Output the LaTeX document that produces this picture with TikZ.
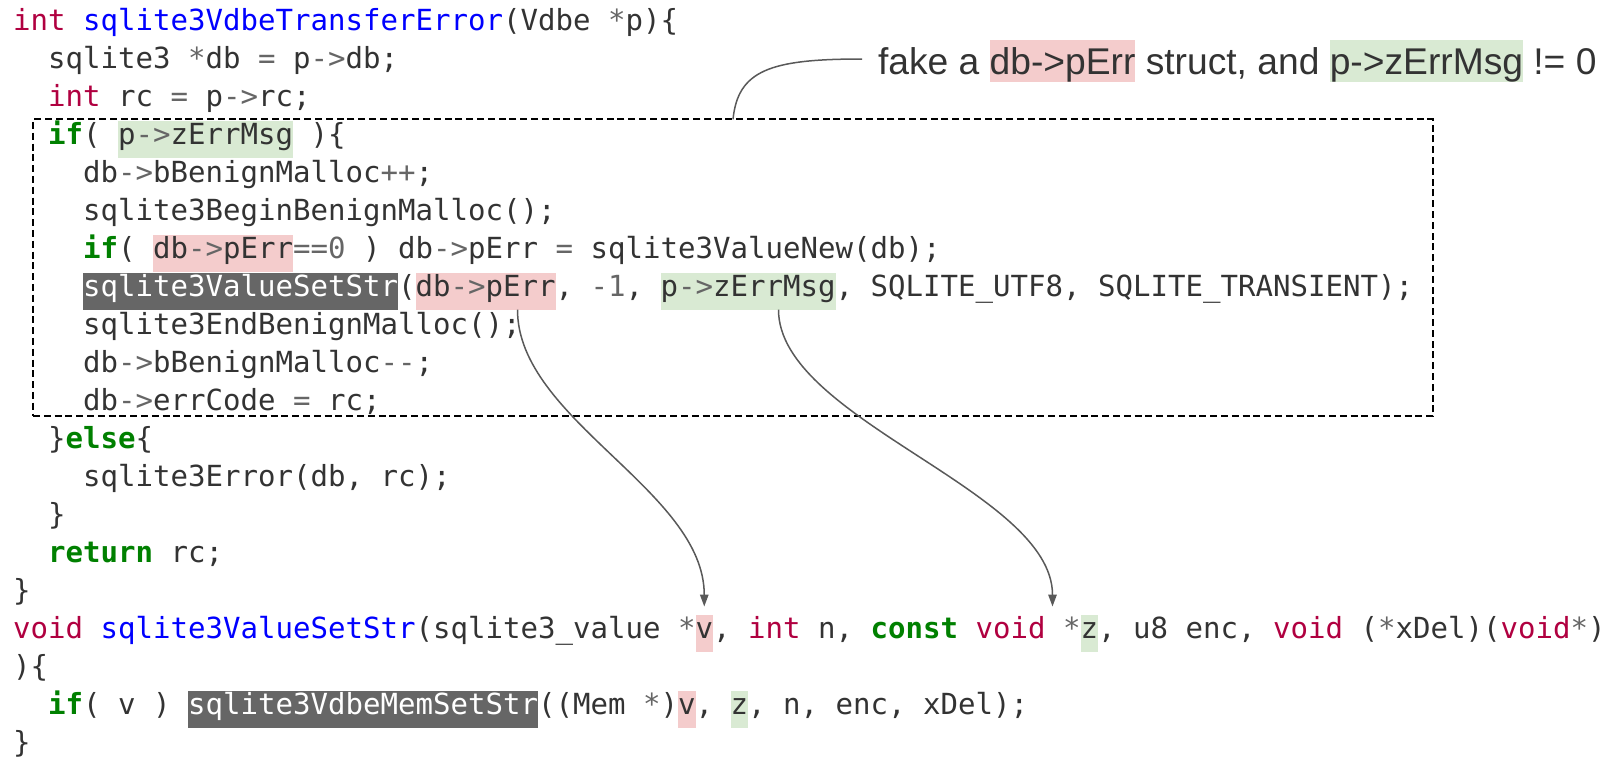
\documentclass[tikz,border=0pt]{standalone}
\usepackage{fontspec}
\setmainfont{Liberation Sans}
\setmonofont{DejaVu Sans Mono}
\usetikzlibrary{arrows.meta}

% Pygments-like palette for the C listing
\definecolor{codefg}{HTML}{333333}
\definecolor{typecol}{HTML}{B00040}
\definecolor{kwcol}{HTML}{008000}
\definecolor{fncol}{HTML}{0000FF}
\definecolor{opcol}{HTML}{666666}
% marker colours
\definecolor{pinkbg}{HTML}{F4CCCC}
\definecolor{greenbg}{HTML}{D9EAD3}
\definecolor{darkbg}{HTML}{666666}
\definecolor{linkcol}{HTML}{595959}

% token classes
\newcommand\cTy[1]{\textcolor{typecol}{#1}}
\newcommand\cKw[1]{\textcolor{kwcol}{\bfseries #1}}
\newcommand\cFn[1]{\textcolor{fncol}{#1}}
\newcommand\cOp[1]{\textcolor{opcol}{#1}}
\newcommand\cW[1]{\textcolor{white}{#1}}
% inline marker for the sans-serif note
\newcommand\notemark[2]{{\setlength{\fboxsep}{0pt}\colorbox{#1}{\rule[-0.212em]{0pt}{1.117em}#2}}}

% one listing line: name, line number, start column, text
\newcommand\codeline[4]{\node[code] (#1) at ({13+17.5*#3},{30+38*#2}) {#4};}
% marker rectangle: name, line, column, width in columns, style
\newcommand\markbox[5]{\node[#5, anchor=north west, minimum width={#4*17.5pt}, minimum height=37.2pt] (#1) at ({13+17.5*#3},{30+38*#2-23.5}) {};}

\tikzset{
  code/.style={anchor=base west, inner sep=0pt, outer sep=0pt, text=codefg,
    font=\ttfamily\fontsize{29.07pt}{38pt}\selectfont},
  hlbase/.style={inner sep=0pt, outer sep=0pt, draw=none},
  hlpink/.style={hlbase, fill=pinkbg},
  hlgreen/.style={hlbase, fill=greenbg},
  hldark/.style={hlbase, fill=darkbg},
  blockframe/.style={draw=black, line width=1.8pt, dash pattern=on 7pt off 3.8pt,
    inner sep=0pt, outer sep=0pt},
  note/.style={anchor=base west, inner sep=0pt, outer sep=0pt, text=codefg,
    font=\fontsize{37.2pt}{44pt}\selectfont},
  conn/.style={draw=linkcol, line width=1.5pt},
  arr/.style={conn, -{Triangle[length=12pt,width=8.5pt]}},
}

\begin{document}
\frenchspacing
\begin{tikzpicture}[x=1pt,y=-1pt]
\useasboundingbox (0,0) rectangle (1614,756);

% markers behind the text
\markbox{hlMsgA}{3}{6}{10}{hlgreen}
\markbox{hlErrA}{6}{8}{8}{hlpink}
\markbox{hlFnA}{7}{4}{18}{hldark}
\markbox{hlErrB}{7}{23}{8}{hlpink}
\markbox{hlMsgB}{7}{37}{10}{hlgreen}
\markbox{hlV}{16}{39}{1}{hlpink}
\markbox{hlZ}{16}{61}{1}{hlgreen}
\markbox{hlFnB}{18}{10}{20}{hldark}
\markbox{hlVb}{18}{38}{1}{hlpink}
\markbox{hlZb}{18}{41}{1}{hlgreen}

% the listing
\codeline{l0}{0}{0}{\cTy{int} \cFn{sqlite3VdbeTransferError}(Vdbe \cOp{*}p)\{}
\codeline{l1}{1}{2}{sqlite3 \cOp{*}db \cOp{=} p\cOp{->}db;}
\codeline{l2}{2}{2}{\cTy{int} rc \cOp{=} p\cOp{->}rc;}
\codeline{l3}{3}{2}{\cKw{if}( p\cOp{->}zErrMsg )\{}
\codeline{l4}{4}{4}{db\cOp{->}bBenignMalloc\cOp{++};}
\codeline{l5}{5}{4}{sqlite3BeginBenignMalloc();}
\codeline{l6}{6}{4}{\cKw{if}( db\cOp{->}pErr\cOp{==0} ) db\cOp{->}pErr \cOp{=} sqlite3ValueNew(db);}
\codeline{l7}{7}{4}{\cW{sqlite3ValueSetStr}(db\cOp{->}pErr, \cOp{-1}, p\cOp{->}zErrMsg, SQLITE\_UTF8, SQLITE\_TRANSIENT);}
\codeline{l8}{8}{4}{sqlite3EndBenignMalloc();}
\codeline{l9}{9}{4}{db\cOp{->}bBenignMalloc\cOp{--};}
\codeline{l10}{10}{4}{db\cOp{->}errCode \cOp{=} rc;}
\codeline{l11}{11}{2}{\}\cKw{else}\{}
\codeline{l12}{12}{4}{sqlite3Error(db, rc);}
\codeline{l13}{13}{2}{\}}
\codeline{l14}{14}{2}{\cKw{return} rc;}
\codeline{l15}{15}{0}{\}}
\codeline{l16}{16}{0}{\cTy{void} \cFn{sqlite3ValueSetStr}(sqlite3\_value \cOp{*}v, \cTy{int} n, \cKw{const} \cTy{void} \cOp{*}z, u8 enc, \cTy{void} (\cOp{*}xDel)(\cTy{void}\cOp{*})}
\codeline{l17}{17}{0}{)\{}
\codeline{l18}{18}{2}{\cKw{if}( v ) \cW{sqlite3VdbeMemSetStr}((Mem \cOp{*})v, z, n, enc, xDel);}
\codeline{l19}{19}{0}{\}}

% dashed frame around the error-transfer branch
\node[blockframe, anchor=north west, minimum width=1400pt, minimum height=297pt] (blk) at (33,119.3) {};

% note and its leader
\node[note] (note) at (878,74) {fake a \notemark{pinkbg}{db->pErr} struct, and \notemark{greenbg}{p->zErrMsg} != 0};
\draw[conn] ([xshift=700pt]blk.north west) .. controls +(5,-49) and +(-92,0) .. ([shift={(-16pt,15pt)}]note.base west);

% argument flow into the callee's parameters
\draw[arr] ([xshift=-38pt]hlErrB.south east) .. controls +(0,110) and +(0,-116) .. ([yshift=8pt]hlV.north);
\draw[arr] ([xshift=-57pt]hlMsgB.south east) .. controls +(0,110) and +(0,-116) .. ([shift={(-28pt,8pt)}]hlZ.north west);
\end{tikzpicture}
\end{document}
